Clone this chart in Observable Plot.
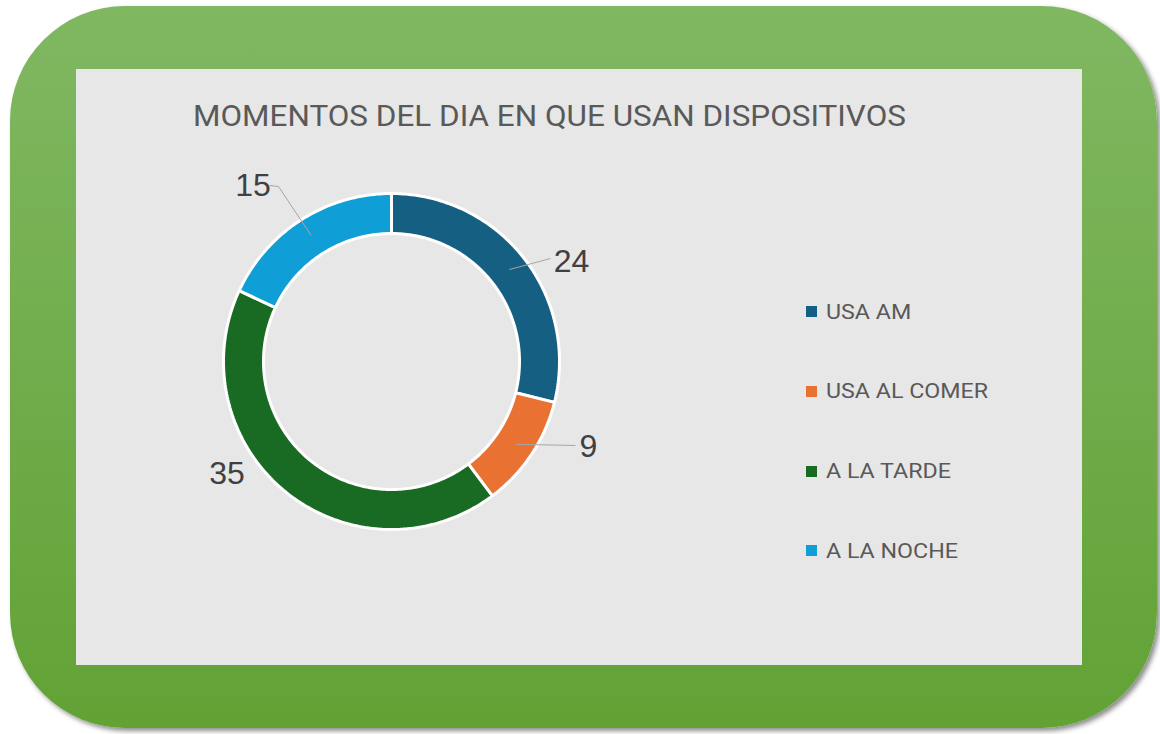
<!DOCTYPE html>
<html><head><meta charset="utf-8">
<script src="https://cdn.jsdelivr.net/npm/d3@7"></script>
<script src="https://cdn.jsdelivr.net/npm/@observablehq/plot@0.6"></script>
<style>
html,body{margin:0;padding:0;background:#fff;width:1160px;height:734px;overflow:hidden;}
#frame{position:absolute;left:10px;top:6px;width:1147px;height:722px;border-radius:115px;
  background:linear-gradient(#80b862,#62a235);box-shadow:3px 3px 5px rgba(0,0,0,0.45);}
#panel{position:absolute;left:76px;top:69px;width:1006px;height:596px;background:#e7e7e7;}
#title{position:absolute;left:117px;top:32px;font-family:Roboto,sans-serif;font-size:30px;line-height:30px;color:#595959;white-space:nowrap;transform-origin:0 50%;}
#chart{position:absolute;left:0;top:0;}
#legend{position:absolute;left:730px;top:0;font-family:Roboto,sans-serif;font-size:20px;color:#595959;}
.item{position:absolute;left:0;display:flex;align-items:center;height:20px;white-space:nowrap;}
.sw{width:11px;height:11px;margin-right:9px;flex:none;}
.item span{display:inline-block;transform-origin:0 50%;}
</style>
</head><body>
<div id="frame"></div>
<div id="panel"><div id="chart"></div><div id="title"></div><div id="legend"></div></div>
<script>
// ---- data ----
const categories = ["USA AM", "USA AL COMER", "A LA TARDE", "A LA NOCHE"];
const values = [24, 9, 35, 15];
const colors = ["#156082", "#e97132", "#196b24", "#0f9ed5"];
const chartTitle = "MOMENTOS DEL DIA EN QUE USAN DISPOSITIVOS";

// ---- layout ----
const W = 1006, H = 596;
const cx = 315, cy = 292, R = 168, innerFrac = 128 / 168;
// label placement (pixel offsets from donut centre) and leader-line end points
const labelLayout = [
  {dx: 180, dy: -99.5, leader: [[159, -103]]},
  {dx: 197, dy: 85, leader: [[184, 84]]},
  {dx: -164.5, dy: 112.5, leader: null},
  {dx: -138.5, dy: -176, leader: [[-113, -175], [-122, -176]]}
];

const pie = d3.pie().sort(null).startAngle(0).endAngle(2 * Math.PI)(values);
const ring = [];
pie.forEach((a, i) => {
  const n = Math.max(2, Math.ceil((a.endAngle - a.startAngle) / (2 * Math.PI) * 360));
  for (let k = 0; k <= n; k++) {
    const t = a.startAngle + (a.endAngle - a.startAngle) * k / n;
    ring.push({cat: categories[i], x: Math.sin(t), y: Math.cos(t)});
  }
  for (let k = n; k >= 0; k--) {
    const t = a.startAngle + (a.endAngle - a.startAngle) * k / n;
    ring.push({cat: categories[i], x: innerFrac * Math.sin(t), y: innerFrac * Math.cos(t)});
  }
});

const labels = pie.map((a, i) => ({
  cat: categories[i], text: String(values[i]),
  x: labelLayout[i].dx / R, y: -labelLayout[i].dy / R
}));
const leaders = [];
pie.forEach((a, i) => {
  const L = labelLayout[i].leader;
  if (!L) return;
  const m = (a.startAngle + a.endAngle) / 2, r0 = 0.89;
  leaders.push({cat: categories[i], x: r0 * Math.sin(m), y: r0 * Math.cos(m)});
  L.forEach(p => leaders.push({cat: categories[i], x: p[0] / R, y: -p[1] / R}));
});

const plot = Plot.plot({
  width: W, height: H, margin: 0,
  x: {axis: null, domain: [-1, 1], range: [cx - R, cx + R]},
  y: {axis: null, domain: [-1, 1], range: [cy + R, cy - R]},
  color: {domain: categories, range: colors},
  style: {background: "transparent", overflow: "visible"},
  marks: [
    Plot.line(ring, {x: "x", y: "y", z: "cat", fill: "cat", stroke: "white", strokeWidth: 3,
      strokeLinejoin: "miter", curve: "linear-closed"}),
    Plot.line(leaders, {x: "x", y: "y", z: "cat", stroke: "#a6a6a6", strokeWidth: 1, strokeLinecap: "butt"}),
    Plot.text(labels, {x: "x", y: "y", text: "text", fill: "#404040", fontSize: 32,
      fontFamily: "'Liberation Sans', Arial, sans-serif", textAnchor: "middle", lineAnchor: "middle"})
  ]
});
document.getElementById("chart").appendChild(plot);

// title
const t = document.getElementById("title");
t.textContent = chartTitle;
const tw = t.getBoundingClientRect().width;
t.style.transform = `scaleX(${713 / tw})`;

// legend
const leg = document.getElementById("legend");
const rowsY = [311.5, 391, 471, 550.5];
const spans = [];
categories.forEach((c, i) => {
  const d = document.createElement("div");
  d.className = "item";
  d.style.top = (rowsY[i] - 69 - 10) + "px";
  const s = document.createElement("div");
  s.className = "sw"; s.style.background = colors[i];
  const l = document.createElement("span");
  l.textContent = c;
  d.appendChild(s); d.appendChild(l);
  leg.appendChild(d);
  spans.push(l);
});
const lw = spans[1].getBoundingClientRect().width;
const ls = 162 / lw;
spans.forEach(s => s.style.transform = `scaleX(${ls})`);
</script>
</body></html>
